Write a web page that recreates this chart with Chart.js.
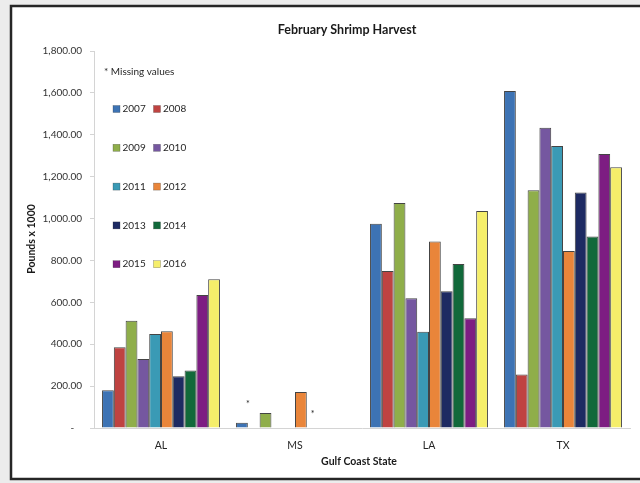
<!DOCTYPE html>
<html>
<head>
<meta charset="utf-8">
<script src="https://cdn.jsdelivr.net/npm/chart.js@4/dist/chart.umd.min.js"></script>
<style>
html,body{margin:0;padding:0;background:#ececec;}
#wrap{width:640px;height:483px;position:relative;}
</style>
</head>
<body>
<div id="wrap"><canvas id="c" width="640" height="483"></canvas></div>
<script>
const categories = ['AL', 'MS', 'LA', 'TX'];
const years = ['2007','2008','2009','2010','2011','2012','2013','2014','2015','2016'];
const v2007 = [180, 25, 975, 1609];
const v2008 = [385, null, 750, 256];
const v2009 = [512, 72, 1074, 1135];
const v2010 = [329, null, 619, 1434];
const v2011 = [449, null, 460, 1347];
const v2012 = [462, 172, 890, 845];
const v2013 = [247, null, 653, 1124];
const v2014 = [274, null, 783, 914];
const v2015 = [635, null, 524, 1308];
const v2016 = [710, null, 1036, 1245];
const seriesValues = [v2007, v2008, v2009, v2010, v2011, v2012, v2013, v2014, v2015, v2016];
const colors = ['#3d73b4','#bf4341','#8fae4a','#7557a0','#3a9ab5','#e9853a','#1d2a62','#11693a','#7d1d82','#f5ee6a'];
const yTicks = [0,200,400,600,800,1000,1200,1400,1600,1800];
// "*" missing-value markers: category, slot position within group, value height
const missingCats = ['MS','MS'];
const missingSlot = [1.0, 6.5];
const missingY = [122, 74];
const missingNote = '* Missing values';

const FONT = 'Lato, "Open Sans", sans-serif';

const framePlugin = {
  id: 'frame',
  beforeDraw(chart) {
    const ctx = chart.ctx;
    ctx.save();
    ctx.fillStyle = '#ececec';
    ctx.fillRect(0, 0, chart.width, chart.height);
    ctx.fillStyle = '#ffffff';
    ctx.fillRect(11, 6, chart.width, 473);
    ctx.strokeStyle = '#262626';
    ctx.lineWidth = 2.5;
    ctx.strokeRect(11, 6, chart.width + 10, 473);
    ctx.restore();
  }
};

const textPlugin = {
  id: 'texts',
  afterDraw(chart) {
    const ctx = chart.ctx;
    ctx.save();
    ctx.fillStyle = '#1a1a1a';
    ctx.textBaseline = 'middle';
    ctx.textAlign = 'center';
    ctx.font = 'bold 12.5px ' + FONT;
    ctx.fillText('February Shrimp Harvest', 347, 30);
    ctx.font = 'bold 10.5px ' + FONT;
    ctx.fillText('Gulf Coast State', 359, 462);
    ctx.save();
    ctx.translate(32, 239);
    ctx.rotate(-Math.PI / 2);
    ctx.fillText('Pounds x 1000', 0, 0);
    ctx.restore();

    // legend
    ctx.textAlign = 'left';
    ctx.font = '10px ' + FONT;
    ctx.fillStyle = '#262626';
    ctx.fillText(missingNote, 104, 72);
    const ds = chart.data.datasets;
    ds.forEach((d, i) => {
      const col = i % 2, row = Math.floor(i / 2);
      const bx = 113 + col * 40.5;
      const by = 109 + row * 38.8;
      ctx.fillStyle = d.backgroundColor;
      ctx.fillRect(bx, by - 3.5, 7, 7);
      ctx.strokeStyle = 'rgba(40,40,40,0.5)';
      ctx.lineWidth = 0.5;
      ctx.strokeRect(bx, by - 3.5, 7, 7);
      ctx.fillStyle = '#262626';
      ctx.fillText(d.label, bx + 9.5, by);
    });

    // missing markers
    const xs = chart.scales.x, ys = chart.scales.y;
    const catW = (xs.right - xs.left) / categories.length;
    const groupW = catW * 0.88;
    const slot = groupW / years.length;
    ctx.textAlign = 'center';
    ctx.font = '9px ' + FONT;
    missingCats.forEach((c, k) => {
      const cx = xs.getPixelForValue(categories.indexOf(c));
      const x = cx - groupW / 2 + missingSlot[k] * slot;
      const y = ys.getPixelForValue(missingY[k]);
      ctx.fillText('*', x, y + 2);
    });
    ctx.restore();
  }
};

new Chart(document.getElementById('c'), {
  type: 'bar',
  data: {
    labels: categories,
    datasets: years.map((y, i) => ({
      label: y,
      data: seriesValues[i],
      backgroundColor: colors[i],
      borderColor: 'rgba(35,35,35,0.85)',
      borderWidth: 1,
      barPercentage: 1.0,
      categoryPercentage: 0.88
    }))
  },
  options: {
    responsive: false,
    animation: false,
    devicePixelRatio: 1,
    layout: { padding: { left: 0, right: 10, top: 51, bottom: 0 } },
    plugins: { legend: { display: false }, title: { display: false }, tooltip: { enabled: false } },
    scales: {
      x: {
        grid: { display: false, drawTicks: false },
        border: { display: true, color: '#d4d4d4', width: 1 },
        ticks: { font: { family: FONT, size: 10.5 }, color: '#262626', padding: 11 },
        afterFit(s) { s.height = 55; }
      },
      y: {
        min: 0, max: 1800,
        afterBuildTicks(s) { s.ticks = yTicks.map(v => ({ value: v })); },
        grid: { display: true, drawOnChartArea: false, drawTicks: true, tickLength: 4, color: '#d4d4d4' },
        border: { display: true, color: '#d4d4d4', width: 1 },
        ticks: {
          font: { family: FONT, size: 10 }, color: '#333333', padding: 8,
          callback(v) {
            if (v === 0) return '-   ';
            return v.toLocaleString('en-US', { minimumFractionDigits: 2, maximumFractionDigits: 2 });
          }
        },
        afterFit(s) { s.width = 94; }
      }
    }
  },
  plugins: [framePlugin, textPlugin]
});
</script>
</body>
</html>
